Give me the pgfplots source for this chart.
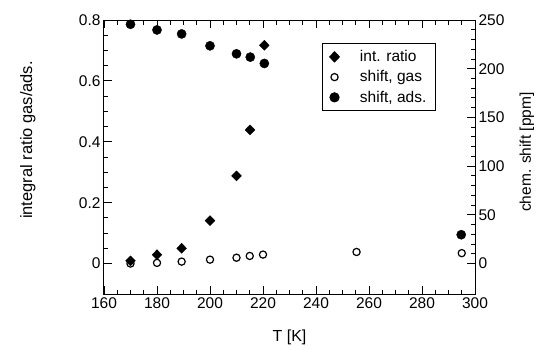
\documentclass[border=0pt]{standalone}
\usepackage{fontspec}
\setmainfont{Liberation Sans}
\usepackage{pgfplots}
\pgfplotsset{compat=1.18}
\pgfplotsset{
  common/.style={
    at={(0,0)}, anchor=south west,
    scale only axis, width=371pt, height=274pt,
    xmin=160, xmax=300,
    tick align=inside,
    major tick length=8pt, minor tick length=4.5pt,
    axis line style={line width=1pt},
    every tick/.style={black, line width=0.9pt},
    ticklabel style={font=\fontsize{15.5}{17}\selectfont},
    /pgf/number format/assume math mode=true,
    label style={font=\fontsize{16}{18}\selectfont},
  }
}
\begin{document}
\begin{tikzpicture}
\path (-104pt,-55pt) rectangle (453pt,294pt);
\begin{axis}[common,
  ymin=-0.1, ymax=0.8,
  xtick={160,180,...,300}, minor x tick num=3,
  ytick={0,0.2,0.4,0.6,0.8}, yticklabels={0,0.2,0.4,0.6,0.8},
  minor y tick num=3,
  xtick pos=both, ytick pos=left,
  xlabel={T [K]},
  ylabel={integral ratio gas/ads.},
  xlabel style={at={(axis description cs:0.5,-0.16)}, anchor=center},
  every axis y label/.style={at={(axis description cs:-0.205,0.562)}, rotate=90, anchor=center, font=\fontsize{16.5}{18}\selectfont},
]
\addplot[only marks, mark=diamond*, mark size=5pt, mark options={xscale=1.3, fill=black, draw=black}]
  coordinates {(170,0.009) (180,0.029) (189.3,0.05) (200,0.141) (210,0.288) (215.1,0.439) (220.5,0.717)};
\end{axis}
\begin{axis}[common,
  ymin=-31.25, ymax=250,
  axis x line=none, axis y line*=right,
  ytick={0,50,...,250}, minor y tick num=4,
  ylabel={chem. shift [ppm]},
  every axis y label/.style={at={(axis description cs:1.140,0.518)}, rotate=90, anchor=center, font=\fontsize{15.5}{18}\selectfont},
  legend style={at={(0.588,0.916)}, anchor=north west, draw=black, line width=1pt,
    font=\fontsize{15.5}{17}\selectfont, row sep=3.5pt, inner xsep=7pt, inner ysep=5pt},
  legend cell align=left,
]
\addlegendimage{only marks, mark=diamond*, mark size=5pt, mark options={xscale=1.3, fill=black, draw=black}}
\addlegendentry{\hspace{1.2em}int. ratio}
\addplot[only marks, mark=o, mark size=3.6pt, mark options={line width=1.2pt, draw=black}]
  coordinates {(170,0) (180,0.7) (189.3,2) (200,4) (210,6) (215,7.8) (220,9.2) (255.3,11.9) (295,10.7)};
\addlegendentry{\hspace{1.2em}shift, gas}
\addplot[only marks, mark=*, mark size=4.6pt, mark options={fill=black, draw=black}]
  coordinates {(170,245.6) (180,239.8) (189.3,235.7) (200,223.5) (210,215.3) (215.2,211.9) (220.5,205.4) (294.8,29.6)};
\addlegendentry{\hspace{1.2em}shift, ads.}
\end{axis}
\end{tikzpicture}
\end{document}
